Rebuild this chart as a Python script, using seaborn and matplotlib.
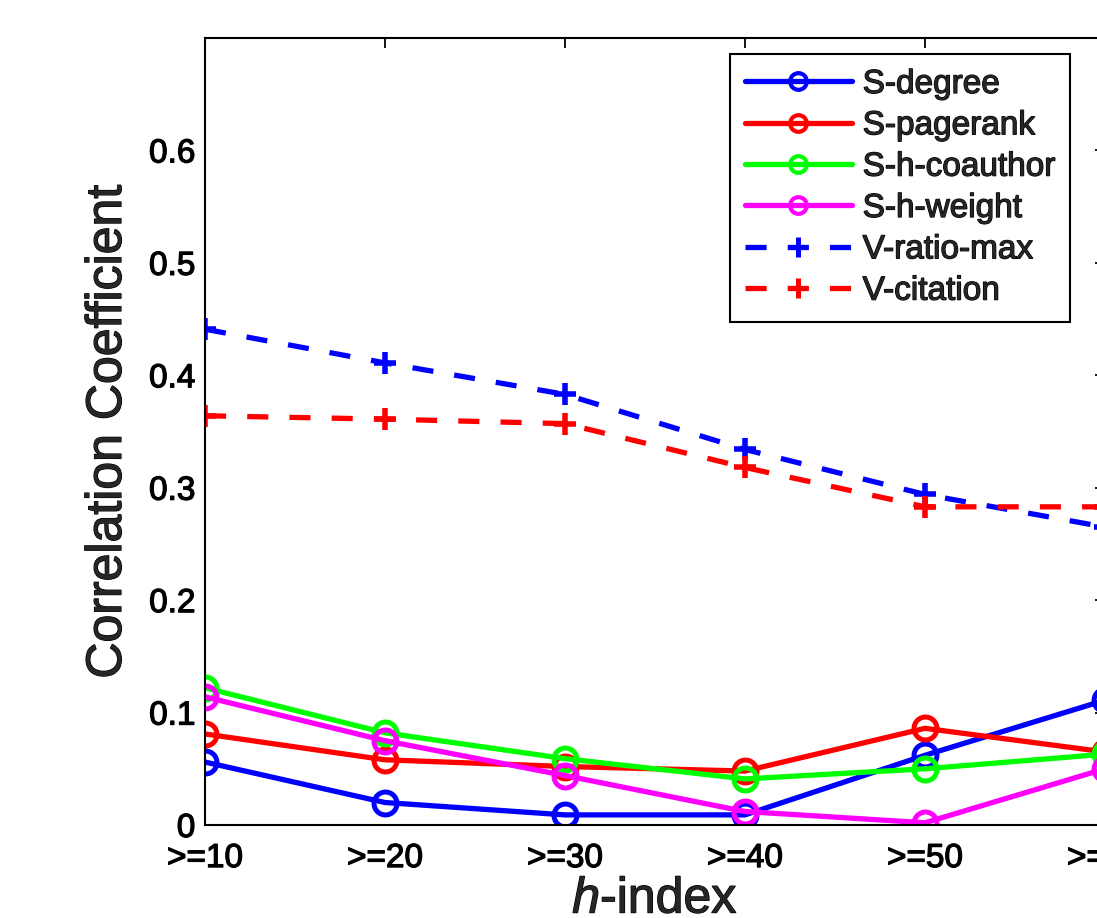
import matplotlib
matplotlib.use("Agg")
import matplotlib.pyplot as plt
import matplotlib.patheffects as pe
import seaborn as sns
import pandas as pd
import numpy as np

categories = [">=10", ">=20", ">=30", ">=40", ">=50", ">=60"]
s_degree = [0.056, 0.020, 0.009, 0.009, 0.062, 0.111]
s_pagerank = [0.081, 0.058, 0.052, 0.048, 0.086, 0.065]
s_h_coauthor = [0.122, 0.082, 0.059, 0.041, 0.050, 0.063]
s_h_weight = [0.114, 0.075, 0.044, 0.012, 0.002, 0.050]
v_ratio_max = [0.441, 0.411, 0.383, 0.334, 0.294, 0.265]
v_citation = [0.364, 0.361, 0.357, 0.318, 0.283, 0.283]

series = [
    ("S-degree", s_degree, "#0000ff", "o", "-"),
    ("S-pagerank", s_pagerank, "#ff0000", "o", "-"),
    ("S-h-coauthor", s_h_coauthor, "#00ff00", "o", "-"),
    ("S-h-weight", s_h_weight, "#ff00ff", "o", "-"),
    ("V-ratio-max", v_ratio_max, "#0000ff", "+", (0, (4, 4))),
    ("V-citation", v_citation, "#ff0000", "+", (0, (4, 4))),
]

sns.set_style("white")
plt.rcParams["font.family"] = ["Liberation Sans", "DejaVu Sans"]
plt.rcParams["mathtext.fontset"] = "custom"
plt.rcParams["mathtext.it"] = "Liberation Sans:italic"
plt.rcParams["mathtext.rm"] = "Liberation Sans"

fig = plt.figure(figsize=(10.97, 9.18), dpi=100)
W, H = 1097, 918
left, right, bottom, top = 205, 1105, 825, 38
ax = fig.add_axes([left / W, 1 - bottom / H, (right - left) / W, (bottom - top) / H])

x = np.arange(len(categories))
for name, vals, col, mk, ls in series:
    df = pd.DataFrame({"x": x, "y": vals})
    sns.lineplot(data=df, x="x", y="y", ax=ax, color=col, lw=3.8, linestyle=ls,
                 marker=mk, label=name)

for line in ax.lines:
    col = line.get_color()
    line.set_markeredgecolor(col)
    if line.get_marker() == "o":
        line.set_markerfacecolor("none")
        line.set_markersize(16.5)
        line.set_markeredgewidth(3.6)
    else:
        line.set_markersize(16)
        line.set_markeredgewidth(4)

ax.set_xlim(0, 5)
ax.set_ylim(0, 0.7)
ax.set_xticks(x)
ax.set_xticklabels(categories)
ax.set_yticks([0, 0.1, 0.2, 0.3, 0.4, 0.5, 0.6])
ax.set_yticklabels(["0", "0.1", "0.2", "0.3", "0.4", "0.5", "0.6"])
ax.tick_params(direction="in", top=True, right=True, length=7, width=1.3,
               labelsize=24, colors="black")
ax.tick_params(axis="y", pad=7)
ax.tick_params(axis="x", pad=13)
for sp in ax.spines.values():
    sp.set_visible(True)
    sp.set_color("black")
    sp.set_linewidth(1.5)

ax.set_ylabel("Correlation Coefficient", fontsize=36, labelpad=13)
ax.set_xlabel("$h$-index", fontsize=36, labelpad=2)

# legend
leg = ax.legend(loc="upper left",
                bbox_to_anchor=(730 / W, 1 - 54 / H), bbox_transform=fig.transFigure,
                borderaxespad=0,
                fontsize=24, handlelength=3.2, handletextpad=0.33, labelspacing=0.31,
                borderpad=0.45, frameon=True, fancybox=False, framealpha=1,
                edgecolor="black")
leg.get_frame().set_linewidth(1.5)
for h in leg.legend_handles:
    if h.get_marker() == "o":
        h.set_markersize(12)
        h.set_markeredgewidth(3)
    else:
        h.set_markersize(14)
        h.set_markeredgewidth(3.6)

effect = [pe.withStroke(linewidth=0.9, foreground="black")]
texts = ax.get_xticklabels() + ax.get_yticklabels() + leg.get_texts() + \
    [ax.xaxis.label, ax.yaxis.label]
for t in texts:
    t.set_path_effects(effect)

fig.savefig("out.png", dpi=100)
